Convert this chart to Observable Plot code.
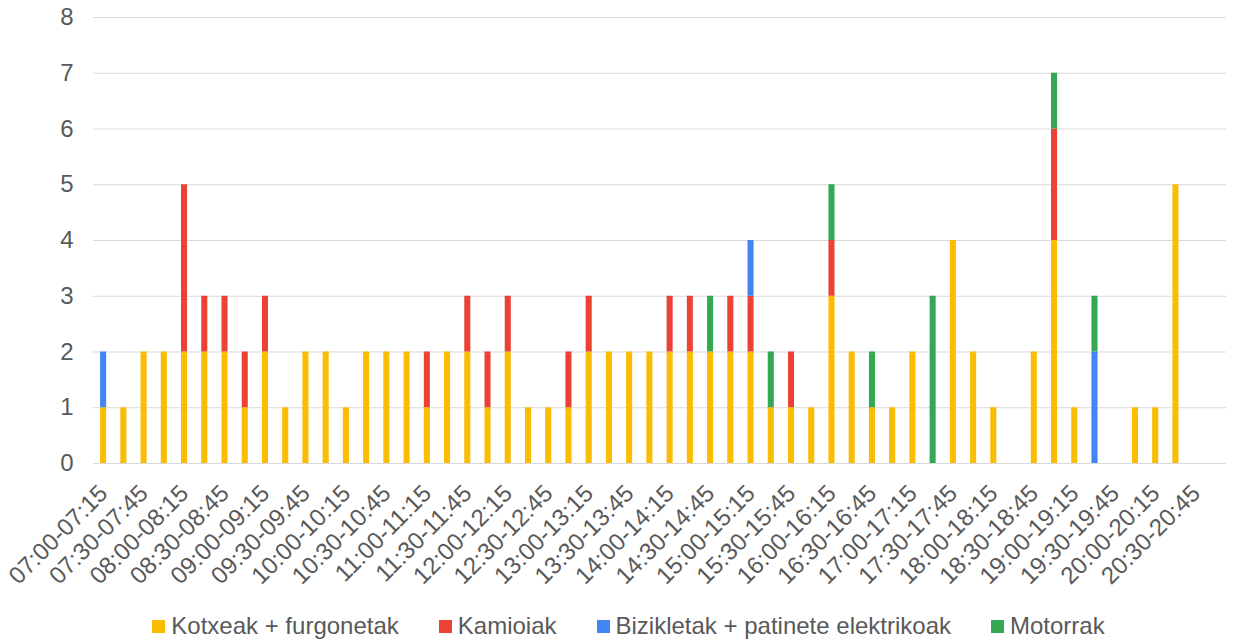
<!DOCTYPE html>
<html>
<head>
<meta charset="utf-8">
<script src="https://cdn.jsdelivr.net/npm/d3@7"></script>
<script src="https://cdn.jsdelivr.net/npm/@observablehq/plot@0.6"></script>
<style>
  html, body { margin: 0; padding: 0; background: #fff; }
  #chart svg { display: block; }
  #legend { display: flex; justify-content: center; align-items: center; height: 42px; padding-left: 24px;
    font-family: "Liberation Sans", Arial, sans-serif; font-size: 24px; color: #595959; }
  #legend .item { display: flex; align-items: center; margin: 0 20px; }
  #legend .sw { width: 13px; height: 13px; margin-right: 6px; display: inline-block; }
</style>
</head>
<body>
<div id="chart"></div>
<div id="legend"></div>
<script>
const categories = [
  "07:00-07:15","07:15-07:30","07:30-07:45","07:45-08:00",
  "08:00-08:15","08:15-08:30","08:30-08:45","08:45-09:00",
  "09:00-09:15","09:15-09:30","09:30-09:45","09:45-10:00",
  "10:00-10:15","10:15-10:30","10:30-10:45","10:45-11:00",
  "11:00-11:15","11:15-11:30","11:30-11:45","11:45-12:00",
  "12:00-12:15","12:15-12:30","12:30-12:45","12:45-13:00",
  "13:00-13:15","13:15-13:30","13:30-13:45","13:45-14:00",
  "14:00-14:15","14:15-14:30","14:30-14:45","14:45-15:00",
  "15:00-15:15","15:15-15:30","15:30-15:45","15:45-16:00",
  "16:00-16:15","16:15-16:30","16:30-16:45","16:45-17:00",
  "17:00-17:15","17:15-17:30","17:30-17:45","17:45-18:00",
  "18:00-18:15","18:15-18:30","18:30-18:45","18:45-19:00",
  "19:00-19:15","19:15-19:30","19:30-19:45","19:45-20:00",
  "20:00-20:15","20:15-20:30","20:30-20:45","20:45-21:00"
];
const xTickLabels = [
  "07:00-07:15","07:30-07:45","08:00-08:15","08:30-08:45","09:00-09:15","09:30-09:45",
  "10:00-10:15","10:30-10:45","11:00-11:15","11:30-11:45","12:00-12:15","12:30-12:45",
  "13:00-13:15","13:30-13:45","14:00-14:15","14:30-14:45","15:00-15:15","15:30-15:45",
  "16:00-16:15","16:30-16:45","17:00-17:15","17:30-17:45","18:00-18:15","18:30-18:45",
  "19:00-19:15","19:30-19:45","20:00-20:15","20:30-20:45"
];
//                   07      08      09      10      11      12      13      14      15      16      17      18      19      20
const kotxeak    = [1,1,2,2, 2,2,2,1, 2,1,2,2, 1,2,2,2, 1,2,2,1, 2,1,1,1, 2,2,2,2, 2,2,2,2, 2,1,1,1, 3,2,1,1, 2,0,4,2, 1,0,2,4, 1,0,0,1, 1,5,0,0];
const kamioiak   = [0,0,0,0, 3,1,1,1, 1,0,0,0, 0,0,0,0, 1,0,1,1, 1,0,0,1, 1,0,0,0, 1,1,0,1, 1,0,1,0, 1,0,0,0, 0,0,0,0, 0,0,0,2, 0,0,0,0, 0,0,0,0];
const bizikletak = [1,0,0,0, 0,0,0,0, 0,0,0,0, 0,0,0,0, 0,0,0,0, 0,0,0,0, 0,0,0,0, 0,0,0,0, 1,0,0,0, 0,0,0,0, 0,0,0,0, 0,0,0,0, 0,2,0,0, 0,0,0,0];
const motorrak   = [0,0,0,0, 0,0,0,0, 0,0,0,0, 0,0,0,0, 0,0,0,0, 0,0,0,0, 0,0,0,0, 0,0,1,0, 0,1,0,0, 1,0,1,0, 0,3,0,0, 0,0,0,1, 0,1,0,0, 0,0,0,0];
const seriesNames = ["Kotxeak + furgonetak","Kamioiak","Bizikletak + patinete elektrikoak","Motorrak"];
const seriesColors = ["#FBBC04","#EA4335","#4285F4","#34A853"];
const yTicks = [0,1,2,3,4,5,6,7,8];

const seriesValues = [kotxeak, kamioiak, bizikletak, motorrak];
const rows = [];
seriesValues.forEach((arr, s) => arr.forEach((v, i) => {
  if (v > 0) rows.push({cat: categories[i], series: seriesNames[s], value: v});
}));

const chart = Plot.plot({
  width: 1233,
  height: 605,
  marginLeft: 93,
  marginRight: 7,
  marginTop: 17,
  marginBottom: 142,
  style: {fontFamily: "'Liberation Sans', Arial, sans-serif", fontSize: "24px", color: "#595959", background: "#fff"},
  x: {domain: categories, paddingInner: 0.7, paddingOuter: 0.35, round: false, label: null},
  y: {domain: [0, 8], label: null},
  color: {domain: seriesNames, range: seriesColors},
  marks: [
    Plot.gridY(yTicks, {stroke: "#d9d9d9", strokeOpacity: 1, strokeWidth: 1.2}),
    Plot.barY(rows, Plot.stackY({x: "cat", y: "value", fill: "series", order: seriesNames})),
    Plot.axisY({ticks: yTicks, tickSize: 0, tickPadding: 20, label: null, fontSize: 24, fill: "#595959"}),
    Plot.axisX({ticks: xTickLabels, tickSize: 0, tickPadding: 26, tickRotate: -45, label: null, fontSize: 24, fill: "#595959"})
  ]
});
document.getElementById("chart").appendChild(chart);

const legend = document.getElementById("legend");
seriesNames.forEach((name, i) => {
  const item = document.createElement("span");
  item.className = "item";
  const sw = document.createElement("span");
  sw.className = "sw";
  sw.style.background = seriesColors[i];
  item.appendChild(sw);
  item.appendChild(document.createTextNode(name));
  legend.appendChild(item);
});
</script>
</body>
</html>
